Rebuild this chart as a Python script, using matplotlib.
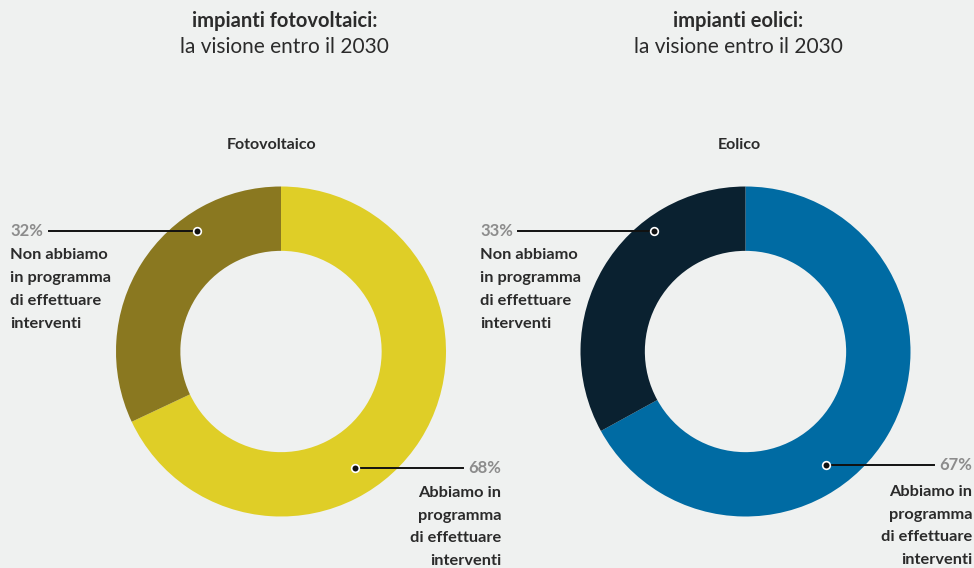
import matplotlib.pyplot as plt

# dati
titoli = ["impianti fotovoltaici:", "impianti eolici:"]
sottotitolo = "la visione entro il 2030"
nomi_grafici = ["Fotovoltaico", "Eolico"]
categorie = ["Abbiamo in\nprogramma\ndi effettuare\ninterventi",
             "Non abbiamo\nin programma\ndi effettuare\ninterventi"]
fotovoltaico = [68, 32]
eolico = [67, 33]
colori_foto = ["#dfce27", "#8a7820"]
colori_eolico = ["#006ba3", "#0a2130"]

W, H = 974, 568
BG = "#eff1f0"
TXT = "#2b2b2b"
GRIGIO = "#8c8c8c"
plt.rcParams['font.family'] = ['Lato', 'DejaVu Sans']

fig = plt.figure(figsize=(W / 100, H / 100), dpi=100, facecolor=BG)


def fx(x):
    return x / W


def fy(y):
    return 1 - y / H


def donut(cx, cy, valori, colori, nome, titolo, tx, ancore, testi):
    r = 165
    ax = fig.add_axes([fx(cx - r), fy(cy + r), 2 * r / W, 2 * r / H])
    ax.set_facecolor(BG)
    ax.pie(valori, colors=colori, startangle=90, counterclock=False,
           radius=1, wedgeprops=dict(width=0.39, linewidth=0))
    ax.set_xlim(-1, 1)
    ax.set_ylim(-1, 1)
    ax.axis('off')

    fig.text(fx(tx), fy(21), titolo, ha='center', va='center',
             fontsize=14.5, fontweight='bold', color=TXT)
    fig.text(fx(tx), fy(47), sottotitolo, ha='center', va='center',
             fontsize=15, color=TXT)
    fig.text(fx(nome[1]), fy(145), nome[0], ha='center', va='center',
             fontsize=11.5, fontweight='bold', color=TXT)

    # annotazioni
    for (dx, dy), (x_fine, x_testo, allinea, off, ls), val, cat in zip(ancore, testi, valori, categorie):
        xd = cx + dx * r
        yd = cy - dy * r
        fig.add_artist(plt.Line2D([fx(xd), fx(x_fine)], [fy(yd), fy(yd)],
                                  color="#111111", lw=1.4))
        fig.add_artist(plt.Line2D([fx(xd)], [fy(yd)], marker='o', ms=5.5,
                                  color="#111111", mec='white', mew=1.2))
        fig.text(fx(x_testo), fy(yd), f"{val}%", ha=allinea, va='center',
                 fontsize=12, fontweight='bold', color=GRIGIO)
        fig.text(fx(x_testo), fy(yd + off), cat, ha=allinea, va='top',
                 fontsize=11.8, fontweight='bold', color=TXT, linespacing=ls,
                 multialignment=allinea)


donut(281, 351.5, fotovoltaico, colori_foto, ("Fotovoltaico", 272), titoli[0], 284.5,
      [(0.448, -0.706), (-0.509, 0.730)],
      [(463, 501, 'right', 18, 1.78), (49, 10, 'left', 17, 1.82)])
donut(745.5, 351.5, eolico, colori_eolico, ("Eolico", 739), titoli[1], 738,
      [(0.488, -0.688), (-0.555, 0.730)],
      [(934, 972, 'right', 20, 1.78), (518, 480, 'left', 17, 1.82)])

plt.savefig("out.png", dpi=100, facecolor=BG)
